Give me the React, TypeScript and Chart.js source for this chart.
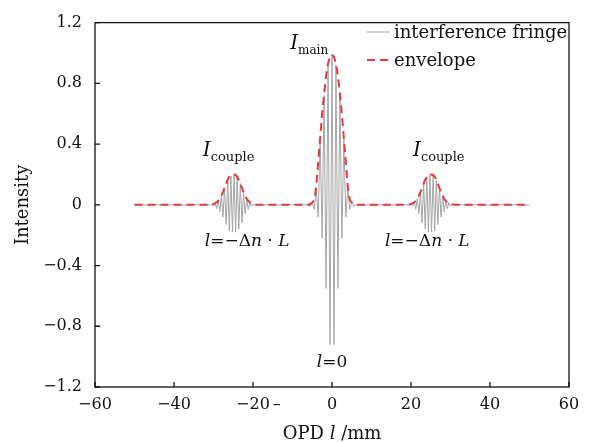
import { useEffect, useRef } from "react";
import { Chart, registerables } from "chart.js";

Chart.register(...registerables);

const xTickLabels = ["−60", "−40", "−20", "0", "20", "40", "60"];
const yTickLabels = ["−1.2", "−0.8", "−0.4", "0", "0.4", "0.8", "1.2"];
const seriesNames = ["interference fringe", "envelope"];
const xAxisTitle = ["OPD ", "l", " /mm"];
const yAxisTitle = "Intensity";

// interference fringe (x in mm, intensity)
const fringeX = [
  -50, -30.8, -30.4, -30.0, -29.6, -29.2, -28.8, -28.4, -28.0, -27.6, -27.2, -26.8, -26.4, -26.0,
  -25.6, -25.2, -24.8, -24.4, -24.0, -23.6, -23.2, -22.8, -22.4, -22.0, -21.6, -21.2, -20.8,
  -20.4, -20.0, -19.6,
  -6.0, -5.5, -5.0, -4.5, -4.0, -3.5, -3.0, -2.5, -2.0, -1.5, -1.0, -0.5, 0, 0.5, 1.0, 1.5, 2.0,
  2.5, 3.0, 3.5, 4.0, 4.5, 5.0, 5.5, 6.0,
  19.6, 20.0, 20.4, 20.8, 21.2, 21.6, 22.0, 22.4, 22.8, 23.2, 23.6, 24.0, 24.4, 24.8, 25.2, 25.6,
  26.0, 26.4, 26.8, 27.2, 27.6, 28.0, 28.4, 28.8, 29.2, 29.6, 30.0, 30.4, 30.8, 50,
];
const fringeY = [
  0, 0, 0.005, -0.01, 0.015, -0.025, 0.03, -0.045, 0.06, -0.08, 0.11, -0.13, 0.16, -0.17,
  0.19, -0.18, 0.2, -0.18, 0.185, -0.16, 0.14, -0.12, 0.08, -0.06, 0.04, -0.03, 0.02,
  -0.01, 0.005, 0,
  0, -0.01, 0.02, -0.03, 0.11, -0.08, 0.43, -0.22, 0.72, -0.55, 0.92, -0.92, 0.99, -0.92, 0.92,
  -0.55, 0.72, -0.22, 0.43, -0.08, 0.11, -0.03, 0.02, -0.01, 0,
  0, 0.005, -0.01, 0.02, -0.03, 0.04, -0.06, 0.08, -0.12, 0.14, -0.16, 0.185, -0.18, 0.2, -0.18,
  0.19, -0.17, 0.16, -0.13, 0.11, -0.08, 0.06, -0.045, 0.03, -0.025, 0.015, -0.01, 0.005, 0, 0,
];

// envelope
const envX = [
  -50, -31, -30, -29, -28.5, -28, -27.5, -27, -26.5, -26, -25.5, -25, -24.5, -24, -23.5, -23,
  -22.5, -22, -21.5, -21, -20, -19,
  -6, -5.5, -5, -4.6, -4.3, -4, -3.5, -3, -2.5, -2, -1.5, -1, -0.5, 0, 0.5, 1, 1.5, 2, 2.5, 3,
  3.5, 4, 4.3, 4.6, 5, 5.5, 6,
  19, 20, 21, 21.5, 22, 22.5, 23, 23.5, 24, 24.5, 25, 25.5, 26, 26.5, 27, 27.5, 28, 28.5, 29,
  30, 31, 50,
];
const envY = [
  0, 0, 0.005, 0.02, 0.035, 0.06, 0.09, 0.125, 0.16, 0.185, 0.198, 0.2, 0.198, 0.185, 0.16, 0.125,
  0.09, 0.06, 0.035, 0.02, 0.005, 0,
  0, 0.005, 0.015, 0.03, 0.06, 0.12, 0.28, 0.44, 0.6, 0.73, 0.85, 0.93, 0.975, 0.99, 0.975, 0.93,
  0.85, 0.73, 0.6, 0.44, 0.28, 0.12, 0.06, 0.03, 0.015, 0.005, 0,
  0, 0.005, 0.02, 0.035, 0.06, 0.09, 0.125, 0.16, 0.185, 0.198, 0.2, 0.198, 0.185, 0.16, 0.125,
  0.09, 0.06, 0.035, 0.02, 0.005, 0, 0,
];

const SERIF = '"DejaVu Serif", "Liberation Serif", serif';
const FRINGE_COLOR = "rgb(165,165,165)";
const ENV_COLOR = "rgb(230,58,66)";

type Run = { t: string; it?: boolean; size: number; dy?: number };

function drawRuns(ctx: CanvasRenderingContext2D, runs: Run[], x: number, y: number, align: "left" | "center") {
  let total = 0;
  for (const r of runs) {
    ctx.font = `${r.it ? "italic " : ""}${r.size}px ${SERIF}`;
    total += ctx.measureText(r.t).width;
  }
  let cx = align === "center" ? x - total / 2 : x;
  ctx.textAlign = "left";
  ctx.textBaseline = "alphabetic";
  for (const r of runs) {
    ctx.font = `${r.it ? "italic " : ""}${r.size}px ${SERIF}`;
    ctx.fillText(r.t, cx, y + (r.dy || 0));
    cx += ctx.measureText(r.t).width;
  }
}

const decorPlugin = {
  id: "decor",
  afterDraw(chart: any) {
    const ctx: CanvasRenderingContext2D = chart.ctx;
    const { left, right, top, bottom } = chart.chartArea;
    const xs = chart.scales.x;
    const ys = chart.scales.y;
    ctx.save();
    ctx.strokeStyle = "#111";
    ctx.lineWidth = 1.3;
    ctx.strokeRect(left, top, right - left, bottom - top);
    // inward ticks
    ctx.beginPath();
    for (const t of xs.ticks) {
      const px = xs.getPixelForValue(t.value);
      ctx.moveTo(px, bottom);
      ctx.lineTo(px, bottom - 5);
    }
    for (const t of ys.ticks) {
      const py = ys.getPixelForValue(t.value);
      ctx.moveTo(left, py);
      ctx.lineTo(left + 5, py);
    }
    ctx.stroke();

    ctx.fillStyle = "#111";
    // stray dash after -20 label
    ctx.font = `16px ${SERIF}`;
    ctx.textAlign = "center";
    ctx.textBaseline = "middle";
    ctx.fillText("–", xs.getPixelForValue(-14), bottom + 18);

    // axis titles
    drawRuns(
      ctx,
      [
        { t: xAxisTitle[0], size: 18 },
        { t: xAxisTitle[1], it: true, size: 18 },
        { t: xAxisTitle[2], size: 18 },
      ],
      (left + right) / 2,
      bottom + 52,
      "center"
    );
    ctx.save();
    ctx.translate(28, (top + bottom) / 2);
    ctx.rotate(-Math.PI / 2);
    ctx.font = `18px ${SERIF}`;
    ctx.textAlign = "center";
    ctx.textBaseline = "alphabetic";
    ctx.fillText(yAxisTitle, 0, 0);
    ctx.restore();

    // legend
    const lx0 = 367, lx1 = 390;
    ctx.lineWidth = 1;
    ctx.strokeStyle = FRINGE_COLOR;
    ctx.beginPath();
    ctx.moveTo(lx0, 32);
    ctx.lineTo(lx1, 32);
    ctx.stroke();
    ctx.lineWidth = 2;
    ctx.strokeStyle = ENV_COLOR;
    ctx.setLineDash([8, 5]);
    ctx.beginPath();
    ctx.moveTo(lx0, 60);
    ctx.lineTo(lx1, 60);
    ctx.stroke();
    ctx.setLineDash([]);
    ctx.fillStyle = "#111";
    drawRuns(ctx, [{ t: seriesNames[0], size: 18 }], 394, 38, "left");
    drawRuns(ctx, [{ t: seriesNames[1], size: 18 }], 394, 66, "left");

    // annotations
    const X = (v: number) => xs.getPixelForValue(v);
    const Y = (v: number) => ys.getPixelForValue(v);
    drawRuns(ctx, [{ t: "I", it: true, size: 20 }, { t: "main", size: 12, dy: 5 }], X(-10.6), Y(1.025), "left");
    drawRuns(ctx, [{ t: "I", it: true, size: 20 }, { t: "couple", size: 13, dy: 5 }], X(-32.7), Y(0.324), "left");
    drawRuns(ctx, [{ t: "I", it: true, size: 20 }, { t: "couple", size: 13, dy: 5 }], X(20.5), Y(0.324), "left");
    const dl: Run[] = [
      { t: "l", it: true, size: 17 },
      { t: "=−Δ", size: 17 },
      { t: "n", it: true, size: 17 },
      { t: " · ", size: 17 },
      { t: "L", it: true, size: 17 },
    ];
    drawRuns(ctx, dl, X(-32.2), Y(-0.27), "left");
    drawRuns(ctx, dl, X(13.4), Y(-0.27), "left");
    drawRuns(ctx, [{ t: "l", it: true, size: 17 }, { t: "=0", size: 17 }], X(0), Y(-1.065), "center");
    ctx.restore();
  },
};

export default function App() {
  const ref = useRef<HTMLCanvasElement | null>(null);
  useEffect(() => {
    if (!ref.current) return;
    const chart = new Chart(ref.current, {
      type: "line",
      data: {
        datasets: [
          {
            label: seriesNames[1],
            data: envX.map((x, i) => ({ x, y: envY[i] })),
            borderColor: ENV_COLOR,
            borderWidth: 2,
            borderDash: [8, 5],
            pointRadius: 0,
            tension: 0,
            fill: false,
          },
          {
            label: seriesNames[0],
            data: fringeX.map((x, i) => ({ x, y: fringeY[i] })),
            borderColor: FRINGE_COLOR,
            borderWidth: 1,
            pointRadius: 0,
            tension: 0,
            fill: false,
          },
        ],
      },
      options: {
        responsive: false,
        animation: false,
        devicePixelRatio: 1,
        layout: { padding: { top: 17, right: 26, left: 0, bottom: 0 } },
        plugins: { legend: { display: false }, tooltip: { enabled: false } },
        scales: {
          x: {
            type: "linear",
            min: -60,
            max: 60,
            afterFit: (s: any) => {
              s.height = 56;
            },
            afterBuildTicks: (s: any) => {
              s.ticks = xTickLabels.map((_, i) => ({ value: -60 + i * 20 }));
            },
            ticks: {
              padding: 8,
              color: "#111",
              font: { family: SERIF, size: 16 },
              maxRotation: 0,
              callback: (_v: any, i: number) => xTickLabels[i],
            },
            grid: { display: false, drawTicks: false },
            border: { display: false },
          },
          y: {
            type: "linear",
            min: -1.2,
            max: 1.2,
            afterFit: (s: any) => {
              s.width = 95;
            },
            afterBuildTicks: (s: any) => {
              s.ticks = yTickLabels.map((_, i) => ({ value: -1.2 + i * 0.4 }));
            },
            ticks: {
              padding: 13,
              color: "#111",
              font: { family: SERIF, size: 16 },
              callback: (_v: any, i: number) => yTickLabels[i],
            },
            grid: { display: false, drawTicks: false },
            border: { display: false },
          },
        },
      },
      plugins: [decorPlugin],
    });
    return () => chart.destroy();
  }, []);
  return (
    <div style={{ position: "fixed", left: 0, top: 0, width: 595, height: 443, background: "#fff" }}>
      <canvas ref={ref} width={595} height={443} />
    </div>
  );
}
